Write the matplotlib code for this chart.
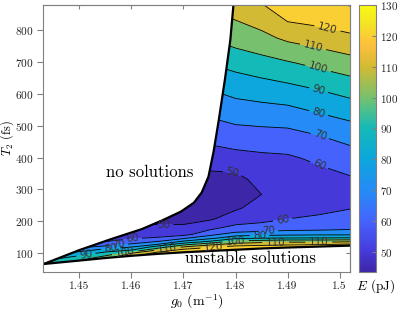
import numpy as np
import matplotlib
matplotlib.use("Agg")
import matplotlib.pyplot as plt
from matplotlib.colors import LinearSegmentedColormap, Normalize
from matplotlib.path import Path
from matplotlib.patches import PathPatch

plt.rcParams['font.family'] = 'serif'
plt.rcParams['font.serif'] = ['cmr10']
plt.rcParams['mathtext.fontset'] = 'cm'
plt.rcParams['axes.formatter.use_mathtext'] = True

# grid: columns in g0, rows = height above the lower boundary
g0_cols = [1.443, 1.450, 1.455, 1.460, 1.465, 1.470, 1.475, 1.480, 1.485, 1.490, 1.496, 1.502]
T2_floor = [65, 76, 84, 91, 97, 102, 106, 110, 114, 117, 120, 123]
h_rows = [0, 4, 8, 12, 17, 23, 30, 40, 55, 75, 100, 130, 170, 220, 280, 350, 420, 500, 580, 660, 780]
E_grid = [
    [95, 100, 106, 117, 126, 127, 128, 128, 128, 128, 127, 127],
    [93, 97, 103, 113, 122, 125, 125, 126, 125, 124, 123, 122],
    [91, 94, 99, 110, 117, 122, 123, 123, 122, 120, 117, 115],
    [89, 92, 96, 100, 110, 117, 119, 120, 117, 115, 112, 110],
    [87, 89, 92, 91, 101, 110, 113, 114, 112, 110, 106, 102],
    [84, 85, 86, 85, 93, 100, 103, 107, 104, 101, 96, 92],
    [80, 78, 79, 77, 80, 88, 91, 97, 93, 90, 86, 83],
    [74, 70, 68, 68, 69, 73, 78, 83, 81, 79, 77, 75],
    [66, 62, 58, 59, 58, 58, 64, 70, 69, 69, 68, 68],
    [60, 57, 54, 54, 52, 52, 57, 61, 61, 63, 64, 66],
    [57, 54, 52, 51, 49, 48, 49, 54, 57, 58, 60, 62],
    [55, 52, 50, 50, 48, 47, 46, 49, 53, 55, 56, 58],
    [54, 51, 49, 48, 48, 46, 44, 45.5, 50, 52, 53.5, 55],
    [55, 52, 50, 50, 50, 48, 46.5, 47, 53.5, 54, 57, 60],
    [58, 56, 54, 54, 54, 53, 53, 55, 57.5, 58.5, 62, 66],
    [63, 61, 60, 60, 60, 60, 62, 65, 65.5, 66.5, 70, 74],
    [70, 68, 67, 67, 67, 68, 70, 73, 75, 76, 80, 84],
    [78, 76, 76, 76, 76, 77, 79, 83, 85, 87.5, 91, 95],
    [88, 86, 85, 85, 85, 87, 89, 92.5, 96, 99, 103, 107],
    [98, 96, 95, 95, 95, 97, 99, 103.5, 107, 112, 115.5, 119],
    [108, 106, 106, 106, 108, 110, 112, 116, 121, 131, 132, 133],
]

# boundary of the "no solutions" region
g0_edge = [1.4431, 1.450, 1.456, 1.462, 1.466, 1.4695, 1.472, 1.4735, 1.4748, 1.4758, 1.4768, 1.4780, 1.4790, 1.4796]
T2_edge = [65, 109, 143, 175, 203, 230, 258, 290, 340, 420, 520, 650, 770, 880]

levels = [50, 60, 70, 80, 90, 100, 110, 120, 130]
cbar_ticks = [50, 60, 70, 80, 90, 100, 110, 120, 130]
xticks = [1.45, 1.46, 1.47, 1.48, 1.49, 1.50]
xticklabels = ['1.45', '1.46', '1.47', '1.48', '1.49', '1.5']
yticks = [100, 200, 300, 400, 500, 600, 700, 800]
E_min, E_max = 43.5, 130

parula = LinearSegmentedColormap.from_list('parula', [
    (0.00, (0.2422, 0.1504, 0.6603)),
    (0.08, (0.2740, 0.2300, 0.8650)),
    (0.19, (0.2700, 0.3900, 0.9900)),
    (0.30, (0.1500, 0.5400, 0.9700)),
    (0.42, (0.0500, 0.6500, 0.8700)),
    (0.54, (0.0800, 0.7300, 0.7200)),
    (0.65, (0.4500, 0.7600, 0.4400)),
    (0.77, (0.8300, 0.7300, 0.2000)),
    (0.85, (0.9900, 0.7500, 0.2400)),
    (0.93, (0.9600, 0.8900, 0.1500)),
    (1.00, (0.9769, 0.9839, 0.0805)),
], N=256)
norm = Normalize(E_min, E_max)

X = np.tile(np.array(g0_cols), (len(h_rows), 1))
Y = np.array(T2_floor)[None, :] + np.array(h_rows)[:, None]
E = np.array(E_grid)

fig = plt.figure(figsize=(3.99, 3.10), dpi=100)
ax = fig.add_axes([43/399, 1-272/310, 307/399, 267/310])
cax = fig.add_axes([359/399, 1-272/310, 17/399, 267/310])

# region where solutions exist
gx = np.concatenate([g0_cols, [1.52, 1.52, g0_edge[-1]], g0_edge[::-1]])
gy = np.concatenate([T2_floor, [T2_floor[-1], 950, 950], T2_edge[::-1]])
clip = PathPatch(Path(np.column_stack([gx, gy])), transform=ax.transData, fc='none', ec='none')
ax.add_patch(clip)

fill_levels = [30] + levels + [150]
band_cols = [parula(norm(max(l, E_min))) for l in fill_levels[:-1]]
cf = ax.contourf(X, Y, E, levels=fill_levels, colors=band_cols)
cf.set_clip_path(clip)
cs = ax.contour(X, Y, E, levels=levels, colors='k', linewidths=0.6)
cs.set_clip_path(clip)

lab_pos = [(1.4977, 809), (1.4948, 743), (1.4958, 678), (1.4958, 605), (1.4958, 533),
           (1.4958, 455), (1.4958, 367), (1.4794, 351), (1.4890, 210), (1.4863, 175),
           (1.4846, 153), (1.4800, 138), (1.4877, 134), (1.4960, 134), (1.4758, 119),
           (1.4662, 182), (1.4602, 144), (1.4575, 125), (1.4560, 113), (1.4512, 97),
           (1.4588, 100), (1.4669, 113)]
txt = ax.clabel(cs, fmt='%d', fontsize=7.5, inline=True, inline_spacing=2, manual=lab_pos)
for t in txt:
    t.set_family('DejaVu Sans')
    t.set_color('0.2')

ax.plot(g0_cols, T2_floor, color='k', lw=1.6, solid_capstyle='round')
ax.plot(g0_edge, T2_edge, color='k', lw=1.6, solid_capstyle='round')

ax.text(1.4636, 354, 'no solutions', ha='center', va='center', fontsize=12)
ax.text(1.4828, 84, 'unstable solutions', ha='center', va='center', fontsize=12)

ax.set_xlim(1.443, 1.502)
ax.set_ylim(40, 880)
ax.set_xticks(xticks)
ax.set_xticklabels(xticklabels)
ax.set_yticks(yticks)
ax.tick_params(direction='out', length=4, color='0.5', labelsize=8.2, labelcolor='0.15', pad=2.5)
for s in ax.spines.values():
    s.set_color('0.5')
top = ax.secondary_xaxis('top')
top.set_xticks(xticks)
top.tick_params(direction='in', length=3, color='0.5', labeltop=False)
top.spines['top'].set_color('0.5')
rgt = ax.secondary_yaxis('right')
rgt.set_yticks(yticks)
rgt.tick_params(direction='in', length=3, color='0.5', labelright=False)
rgt.spines['right'].set_color('0.5')

ax.set_xlabel('$g_0$ (m$^{-1}$)', fontsize=10)
ax.xaxis.set_label_coords(0.5, -0.11)
ax.xaxis.label.set_va('center')
ax.set_ylabel('$T_2$ (fs)', fontsize=9)
ax.yaxis.set_label_coords(-0.116, 0.5)
ax.yaxis.label.set_va('center')

sm = plt.cm.ScalarMappable(norm=norm, cmap=parula)
cb = fig.colorbar(sm, cax=cax, ticks=cbar_ticks)
cb.outline.set_edgecolor('0.5')
cax.tick_params(direction='in', length=3, color='0.5', labelsize=8, labelcolor='0.15', pad=3)
fig.text(376/399, 1-286/310, '$E$ (pJ)', ha='center', va='center', fontsize=9.5)

fig.savefig('out.png', dpi=100)
